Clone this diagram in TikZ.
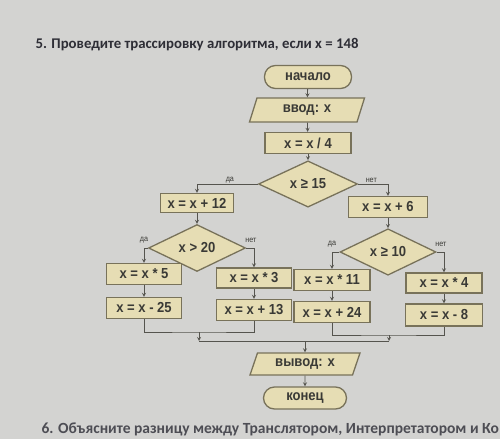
\documentclass[tikz,border=0pt]{standalone}
\usepackage{fontspec}
\setmainfont{Carlito}
\newfontfamily\boxfont[FakeStretch=0.9]{Liberation Sans}
\usetikzlibrary{shapes.geometric}

\definecolor{paper}{HTML}{D3D3D1}
\definecolor{boxfill}{HTML}{E6DDB4}
\definecolor{boxline}{HTML}{78725A}
\definecolor{wirecol}{HTML}{55544E}
\definecolor{ink}{HTML}{3A3A36}
\definecolor{titleink}{HTML}{2E2E36}

\tikzset{
  block/.style={draw=boxline, fill=boxfill, line width=1.3pt, minimum width=75pt,
    minimum height=21pt, inner sep=0pt, text=ink,
    font=\boxfont\bfseries\fontsize{14.5}{14.5}\selectfont},
  term/.style={block, rounded corners=11pt, minimum width=87pt, minimum height=23pt},
  io/.style={block, trapezium, trapezium left angle=55, trapezium right angle=125,
    trapezium stretches body, minimum width=115pt, minimum height=24pt},
  cond/.style={block, diamond},
  wire/.style={draw=wirecol, line width=0.8pt},
  lbl/.style={font=\boxfont\fontsize{8}{8}\selectfont, text=ink, inner sep=1pt},
}

\begin{document}
\begin{tikzpicture}[x=1pt,y=-1pt,>=stealth]
  \useasboundingbox (0,0) rectangle (500,439);
  \clip (0,0) rectangle (500,439);
  \fill[paper] (0,0) rectangle (500,439);

  \node[anchor=west, text=titleink, font=\bfseries\fontsize{14.8}{14.8}\selectfont]
    (title) at (32,45) {5. Проведите трассировку алгоритма, если x = 148};

  % main column
  \node[term] (start) at (308,77) {начало};
  \node[io] (in) at (307,110) {ввод: x};
  \node[block, minimum width=86pt] (div) at (308,143) {x = x / 4};
  \node[cond, minimum width=99pt, minimum height=37pt] (c1) at (308,184) {x ≥ 15};

  % left branch
  \node[block, minimum width=73pt, minimum height=19pt] (p12) at (197,203) {x = x + 12};
  \node[cond, minimum width=97pt, minimum height=42pt] (c2) at (197,248) {x > 20};
  \node[block] (m5) at (144,274) {x = x * 5};
  \node[block] (m25) at (144,308) {x = x - 25};
  \node[block, minimum height=20pt] (m3) at (254,278) {x = x * 3};
  \node[block] (p13) at (254,310) {x = x + 13};

  % right branch
  \node[block, minimum width=79pt] (p6) at (388,207) {x = x + 6};
  \node[cond, minimum width=96pt, minimum height=41pt] (c3) at (388,252) {x ≥ 10};
  \node[block, minimum width=76pt] (m11) at (332,280) {x = x * 11};
  \node[block, minimum width=76pt] (p24) at (332,312) {x = x + 24};
  \node[block, minimum width=76pt, minimum height=20pt] (m4) at (444,283) {x = x * 4};
  \node[block, minimum width=77pt, minimum height=22pt] (m8) at (444,315) {x = x - 8};

  % end
  \node[io, minimum width=110pt, minimum height=22pt] (out) at (305,364) {вывод: x};
  \node[term, minimum width=83pt, minimum height=22pt] (end) at (305,398) {конец};

  \draw[wire,->] (start) -- (in);
  \draw[wire,->] (in) -- (div);
  \draw[wire,->] (div) -- (c1);
  \draw[wire,->] (c1.west) -| node[lbl, pos=0.23, above] {да} (p12.north);
  \draw[wire,->] (c1.east) -| node[lbl, pos=0.22, above] {нет} (p6.north);
  \draw[wire,->] (p12) -- (c2);
  \draw[wire,->] (p6) -- (c3);
  \draw[wire,->] (c2.west) -| node[lbl, pos=0.5, above, yshift=4pt] {да} (m5.north);
  \draw[wire,->] (c2.east) -| node[lbl, pos=0.5, above, yshift=4pt, xshift=-3pt] {нет} (m3.north);
  \draw[wire,->] (m5) -- (m25);
  \draw[wire,->] (m3) -- (p13);
  \draw[wire,->] (c3.west) -| node[lbl, pos=0.5, above, yshift=4pt] {да} (m11.north);
  \draw[wire,->] (c3.east) -| node[lbl, pos=0.5, above, yshift=4pt, xshift=-3pt] {нет} (m4.north);
  \draw[wire,->] (m11) -- (p24);
  \draw[wire,->] (m4) -- (m8);

  % joins
  \coordinate (jl) at (199,332);
  \coordinate (jr) at (389,335);
  \coordinate (ml) at (199,341);
  \coordinate (mr) at (389,341);
  \coordinate (mc) at (305,341);
  \draw[wire] (m25.south) |- (jl) -| (p13.south);
  \draw[wire] (p24.south) |- (jr) -| (m8.south);
  \draw[wire,->] (jl) -- (ml);
  \draw[wire,->] (jr) -- (mr);
  \draw[wire] (ml) -- (mr);
  \draw[wire,->] (mc) -- (out);
  \draw[wire,->] (out) -- (end);

  \node[anchor=west, text=titleink!85, font=\bfseries\fontsize{15.5}{15.5}\selectfont]
    (next) at (38,429) {6. Объясните разницу между Транслятором, Интерпретатором и Ко};
\end{tikzpicture}
\end{document}
